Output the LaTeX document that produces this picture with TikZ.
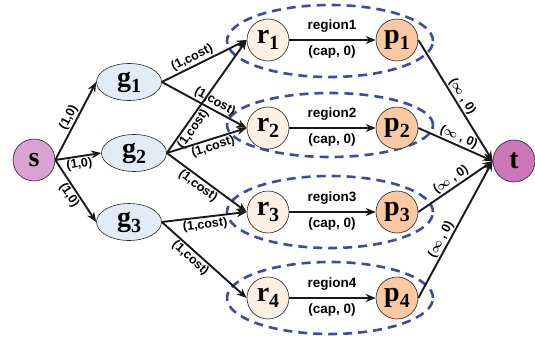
\documentclass[tikz,border=0pt]{standalone}
\usepackage{fontspec}
\setmainfont{Liberation Serif}
\setsansfont{Liberation Sans}
\usetikzlibrary{arrows.meta,shapes.geometric}

\definecolor{snode}{HTML}{D9A3CF}
\definecolor{tnode}{HTML}{C977B8}
\definecolor{gnode}{HTML}{E3EBF6}
\definecolor{rnode}{HTML}{FDEFE2}
\definecolor{pnode}{HTML}{F8C9A2}
\definecolor{regionblue}{HTML}{3C4BA5}

% vertex name with a lowered index
\newcommand\nlab[2]{#1\raisebox{-0.22em}{\fontsize{20}{20}\selectfont #2}}
% unbounded capacity label
\newcommand\infcap{({\boldmath$\infty$} , 0)}

\begin{document}
\begin{tikzpicture}[x=1pt,y=1pt,
  vert/.style={draw=black!85, line width=0.6pt, font=\bfseries\fontsize{28}{28}\selectfont, inner sep=0pt},
  circ/.style={vert, circle, minimum size=42pt},
  gnd/.style={vert, ellipse, fill=gnode, minimum width=65pt, minimum height=37pt},
  region/.style={draw=regionblue, line width=2.6pt, dash pattern=on 9pt off 6pt},
  flow/.style={draw=black!90, line width=1.9pt, -{Stealth[length=10pt,width=8pt]}},
  lab/.style={font=\sffamily\bfseries\fontsize{12.5}{12.5}\selectfont, sloped, inner sep=1.2pt},
  rlab/.style={font=\sffamily\bfseries\fontsize{13.5}{13.5}\selectfont, inner sep=0pt}
]
\useasboundingbox (0,0) rectangle (535,341);

% regions
\draw[region] (330,300) ellipse [x radius=103pt, y radius=36pt];
\draw[region] (330,216) ellipse [x radius=103pt, y radius=32pt];
\draw[region] (330,129) ellipse [x radius=103pt, y radius=36pt];
\draw[region] (330,43) ellipse [x radius=103pt, y radius=36pt];

% vertices
\node[circ, fill=snode] (s) at (34,181) {s};
\node[circ, fill=tnode] (t) at (514,180) {t};
\node[gnd] (g1) at (129,259) {\nlab{g}{1}};
\node[gnd] (g2) at (134,188) {\nlab{g}{2}};
\node[gnd] (g3) at (129,119) {\nlab{g}{3}};
\node[circ, fill=rnode] (r1) at (268,301) {\nlab{r}{1}};
\node[circ, fill=rnode] (r2) at (268,213) {\nlab{r}{2}};
\node[circ, fill=rnode] (r3) at (268,129) {\nlab{r}{3}};
\node[circ, fill=rnode] (r4) at (268,43) {\nlab{r}{4}};
\node[circ, fill=pnode] (p1) at (397,301) {\nlab{p}{1}};
\node[circ, fill=pnode] (p2) at (397,213) {\nlab{p}{2}};
\node[circ, fill=pnode] (p3) at (397,129) {\nlab{p}{3}};
\node[circ, fill=pnode] (p4) at (397,43) {\nlab{p}{4}};

% source edges
\draw[flow] (s.east) -- node[lab, above] {(1,0)} (g1.west);
\draw[flow] (s.east) -- node[lab, below] {(1,0)} (g2.west);
\draw[flow] (s.east) -- node[lab, below] {(1,0)} (g3.west);

% assignment edges
\draw[flow] (g1.east) -- node[lab, above, pos=0.4] {(1,cost)} (r1.west);
\draw[flow] (g1.east) -- node[lab, above, pos=0.58] {(1,cost)} (r2.west);
\draw[flow] (g2.east) -- node[lab, below, pos=0.25] {(1,cost)} (r1.west);
\draw[flow] (g2.east) -- node[lab, below, pos=0.55] {(1,cost)} (r2.west);
\draw[flow] (g2.east) -- node[lab, below, pos=0.45] {(1,cost)} (r3.west);
\draw[flow] (g3.east) -- node[lab, below, pos=0.5] {(1,cost)} (r3.west);
\draw[flow] (g3.east) -- node[lab, below, pos=0.4] {(1,cost)} (r4.west);

% capacity edges
\foreach \i/\y in {1/301,2/213,3/129,4/43}{
  \draw[flow] (r\i.east) -- (p\i.west);
  \node[rlab] (reg\i) at (332,\y+14) {region\i};
  \node[rlab] (cap\i) at (332,\y-12) {(cap, 0)};
}

% sink edges
\draw[flow] (p1.east) -- node[lab, above, pos=0.5] {\infcap} (t.west);
\draw[flow] (p2.east) -- node[lab, above, pos=0.5] {\infcap} (t.west);
\draw[flow] (p3.east) -- node[lab, above, pos=0.5] {\infcap} (t.west);
\draw[flow] (p4.east) -- node[lab, above, pos=0.4] {\infcap} (t.west);
\end{tikzpicture}
\end{document}
